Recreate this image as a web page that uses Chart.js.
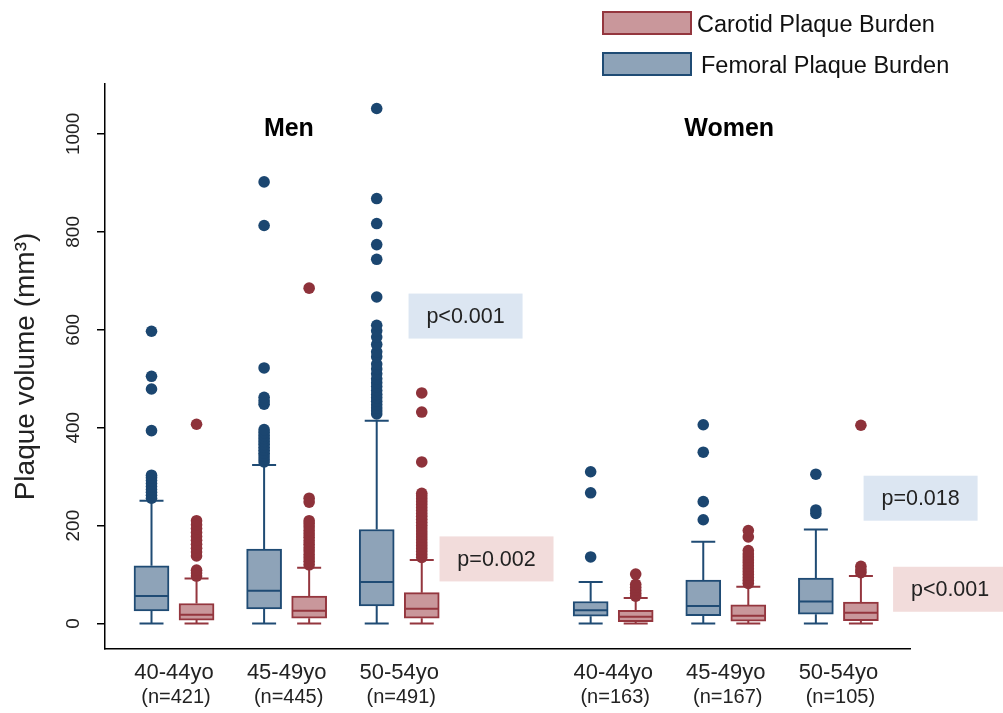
<!DOCTYPE html>
<html>
<head>
<meta charset="utf-8">
<script src="https://cdn.jsdelivr.net/npm/chart.js@4.4.1/dist/chart.umd.min.js"></script>
<style>
  body { margin: 0; background: #fff; }
</style>
</head>
<body>
<canvas id="plaqueChart" width="1003" height="713"></canvas>
<script>
// age groups, men first then women
const ageLabels = ['40-44yo', '45-49yo', '50-54yo', '40-44yo', '45-49yo', '50-54yo'];
const nLabels = ['(n=421)', '(n=445)', '(n=491)', '(n=163)', '(n=167)', '(n=105)'];
const yTicks = [0, 200, 400, 600, 800, 1000];

// femoral plaque burden (box stats)
const femLow = [0, 0, 0, 0, 0, 0];
const femQ1 = [26, 30, 36, 15, 16, 19];
const femMed = [56, 67, 85, 27, 36, 45];
const femQ3 = [118, 152, 192, 45, 89, 93];
const femHigh = [251, 324, 414, 85, 167, 192];
const femOutliers = [
    [256, 262, 268, 274, 280, 286, 292, 298, 303, 394, 479, 505, 597],
    [330, 336, 342, 348, 354, 360, 366, 372, 378, 384, 390, 396, 448, 455, 462, 522, 813, 902],
    [428, 434, 440, 447, 454, 461, 468, 476, 484, 492, 500, 510, 520, 530, 545, 555, 570, 585, 598, 609, 667, 744, 774, 817, 868, 1052],
    [136, 267, 310],
    [212, 249, 350, 406],
    [225, 232, 305]
];

// carotid plaque burden (box stats)
const carLow = [0, 0, 0, 0, 0, 0];
const carQ1 = [7, 11, 11, 4, 5, 6];
const carMed = [18, 26, 30, 14, 16, 22];
const carQ3 = [41, 56, 63, 27, 38, 44];
const carHigh = [92, 114, 130, 52, 75, 97];
const carOutliers = [
    [97, 103, 109, 138, 146, 154, 162, 170, 178, 186, 194, 202, 210, 407],
    [120, 127, 134, 141, 148, 155, 162, 169, 176, 183, 190, 197, 204, 210, 248, 256, 685],
    [135, 141, 147, 153, 159, 165, 171, 177, 183, 189, 195, 201, 207, 213, 219, 225, 231, 237, 243, 249, 255, 261, 266, 330, 432, 471],
    [56, 62, 68, 74, 80, 101],
    [82, 88, 94, 100, 106, 112, 118, 124, 130, 136, 142, 149, 177, 190],
    [104, 110, 117, 405]
];

// p-value notes
const pTexts = ['p<0.001', 'p=0.002', 'p=0.018', 'p<0.001'];
const pSeries = ['fem', 'car', 'fem', 'car'];

const FEM_FILL = '#8ea3b8', FEM_LINE = '#1f4b74', FEM_DOT = '#1b4670';
const CAR_FILL = '#c9979b', CAR_LINE = '#94363e', CAR_DOT = '#8e323a';

// women are placed after a gap
function slotX(i) { return i < 3 ? i + 1 : i + 1.9; }

const femStats = { low: femLow, q1: femQ1, med: femMed, q3: femQ3, high: femHigh };
const carStats = { low: carLow, q1: carQ1, med: carMed, q3: carQ3, high: carHigh };

function boxData(stats, off) {
    return stats.q1.map((q1, i) => ({ x: slotX(i) + off, y: [q1, stats.q3[i]] }));
}
function outlierData(list, off) {
    return list.flatMap((vals, i) => vals.map(v => ({ x: slotX(i) + off, y: v })));
}

// whiskers + median lines on top of each box
const boxLines = {
    id: 'boxLines',
    afterDatasetDraw(chart, args) {
        const ds = chart.data.datasets[args.index];
        const stats = ds.label === 'Femoral Plaque Burden' ? femStats : ds.label === 'Carotid Plaque Burden' ? carStats : null;
        if (!stats || ds.type !== 'bar') return;
        const y = chart.scales.y, ctx = chart.ctx;
        ctx.save();
        ctx.strokeStyle = ds.borderColor;
        ctx.lineWidth = 2;
        args.meta.data.forEach((bar, i) => {
            const x = bar.x, half = bar.width / 2, cap = 12;
            const yLow = y.getPixelForValue(stats.low[i]);
            const yQ1 = y.getPixelForValue(stats.q1[i]);
            const yMed = y.getPixelForValue(stats.med[i]);
            const yQ3 = y.getPixelForValue(stats.q3[i]);
            const yHigh = y.getPixelForValue(stats.high[i]);
            ctx.beginPath();
            ctx.moveTo(x - half + 1, yMed); ctx.lineTo(x + half - 1, yMed);
            ctx.moveTo(x, yQ3); ctx.lineTo(x, yHigh);
            ctx.moveTo(x - cap, yHigh); ctx.lineTo(x + cap, yHigh);
            ctx.moveTo(x, yQ1); ctx.lineTo(x, yLow);
            ctx.moveTo(x - cap, yLow); ctx.lineTo(x + cap, yLow);
            ctx.stroke();
        });
        ctx.restore();
    }
};

// rotated y labels, n labels, group titles, p boxes, legend
const extras = {
    id: 'extras',
    afterDraw(chart) {
        const ctx = chart.ctx, xs = chart.scales.x, ys = chart.scales.y;
        ctx.save();
        ctx.fillStyle = '#222';
        ctx.font = '19px "Liberation Sans", Arial, sans-serif';
        ctx.textAlign = 'center';
        ctx.textBaseline = 'middle';
        ys.ticks.forEach(t => {
            ctx.save();
            ctx.translate(74, ys.getPixelForValue(t.value));
            ctx.rotate(-Math.PI / 2);
            ctx.fillText(String(t.value), 0, 0);
            ctx.restore();
        });

        ctx.font = '20px "Liberation Sans", Arial, sans-serif';
        ctx.textBaseline = 'alphabetic';
        nLabels.forEach((n, i) => ctx.fillText(n, xs.getPixelForValue(slotX(i)) + 2, 703));

        ctx.fillStyle = '#000';
        ctx.font = 'bold 25px "Liberation Sans", Arial, sans-serif';
        ctx.fillText('Men', xs.getPixelForValue(2.02), ys.getPixelForValue(995));
        ctx.fillText('Women', xs.getPixelForValue(5.93), ys.getPixelForValue(995));

        // p-value boxes: anchored near the 50-54yo boxes
        const pPos = [[3.589, 628], [3.864, 132], [7.63, 256], [7.892, 70]];
        ctx.font = '21.5px "Liberation Sans", Arial, sans-serif';
        ctx.textBaseline = 'middle';
        pTexts.forEach((txt, i) => {
            const cx = xs.getPixelForValue(pPos[i][0]);
            const cy = ys.getPixelForValue(pPos[i][1]);
            ctx.fillStyle = pSeries[i] === 'fem' ? '#dce6f2' : '#f2dcdb';
            ctx.fillRect(cx - 57, cy - 22.5, 114, 45);
            ctx.fillStyle = '#222';
            ctx.fillText(txt, cx, cy + 1);
        });

        // legend
        const items = [
            { label: 'Carotid Plaque Burden', fill: CAR_FILL, line: CAR_LINE, top: 12, tx: 697, base: 32 },
            { label: 'Femoral Plaque Burden', fill: FEM_FILL, line: FEM_LINE, top: 53, tx: 701, base: 73 }
        ];
        ctx.textAlign = 'left';
        ctx.textBaseline = 'alphabetic';
        ctx.font = '23.5px "Liberation Sans", Arial, sans-serif';
        items.forEach(it => {
            ctx.fillStyle = it.fill;
            ctx.fillRect(603, it.top, 88, 22);
            ctx.strokeStyle = it.line;
            ctx.lineWidth = 2;
            ctx.strokeRect(603, it.top, 88, 22);
            ctx.fillStyle = '#111';
            ctx.fillText(it.label, it.tx, it.base);
        });
        ctx.restore();
    }
};

const ctx = document.getElementById('plaqueChart').getContext('2d');
new Chart(ctx, {
    type: 'bar',
    data: {
        datasets: [
            {
                type: 'scatter', label: 'fem outliers', order: 0,
                data: outlierData(femOutliers, -0.2),
                pointRadius: 5.8, pointBorderWidth: 0, pointBackgroundColor: FEM_DOT
            },
            {
                type: 'scatter', label: 'car outliers', order: 0,
                data: outlierData(carOutliers, 0.2),
                pointRadius: 5.8, pointBorderWidth: 0, pointBackgroundColor: CAR_DOT
            },
            {
                type: 'bar', label: 'Femoral Plaque Burden', order: 1,
                data: boxData(femStats, -0.2),
                backgroundColor: FEM_FILL, borderColor: FEM_LINE, borderWidth: 2,
                borderSkipped: false, barThickness: 35, grouped: false
            },
            {
                type: 'bar', label: 'Carotid Plaque Burden', order: 1,
                data: boxData(carStats, 0.2),
                backgroundColor: CAR_FILL, borderColor: CAR_LINE, borderWidth: 2,
                borderSkipped: false, barThickness: 35, grouped: false
            }
        ]
    },
    options: {
        responsive: false,
        animation: false,
        events: [],
        layout: { padding: { top: 84, right: 93, bottom: 0, left: 0 } },
        plugins: { legend: { display: false }, tooltip: { enabled: false } },
        scales: {
            x: {
                type: 'linear', min: 0.387, max: 7.536, offset: false,
                grid: { display: false },
                border: { display: true, color: '#000', width: 1.5 },
                afterBuildTicks: axis => { axis.ticks = ageLabels.map((l, i) => ({ value: slotX(i) })); },
                afterFit: s => { s.height = 64; },
                ticks: {
                    autoSkip: false, maxRotation: 0, padding: 3, color: '#222',
                    font: { family: '"Liberation Sans", Arial, sans-serif', size: 22 },
                    callback: (v, i) => ageLabels[i]
                }
            },
            y: {
                type: 'linear', min: -52, max: 1102,
                afterBuildTicks: axis => { axis.ticks = yTicks.map(v => ({ value: v })); },
                afterFit: s => { s.width = 105; },
                ticks: { display: false },
                grid: { display: true, drawOnChartArea: false, drawTicks: true, tickLength: 8, color: '#000', lineWidth: 1.5 },
                border: { display: true, color: '#000', width: 1.5 },
                title: {
                    display: true, text: 'Plaque volume (mm³)', color: '#222',
                    font: { family: '"Liberation Sans", Arial, sans-serif', size: 28 },
                    padding: { top: 9, bottom: 0 }
                }
            }
        }
    },
    plugins: [boxLines, extras]
});
</script>
</body>
</html>
